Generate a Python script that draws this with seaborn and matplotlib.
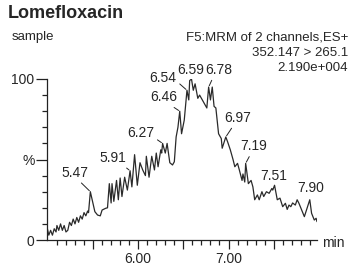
import numpy as np
import pandas as pd
import matplotlib
matplotlib.use("Agg")
import matplotlib.pyplot as plt
import seaborn as sns
from matplotlib.ticker import FixedLocator

# chromatogram trace (retention time in min, relative intensity in %)
time_min = [4.99, 5.01, 5.03, 5.05, 5.07, 5.09, 5.10, 5.12, 5.14, 5.16,
            5.18, 5.20, 5.22, 5.24, 5.26, 5.28, 5.30, 5.32, 5.34, 5.36,
            5.38, 5.40, 5.42, 5.44, 5.45, 5.47, 5.49, 5.52, 5.55, 5.58,
            5.60, 5.64, 5.66, 5.68, 5.70, 5.71, 5.73, 5.76, 5.78, 5.80,
            5.82, 5.85, 5.88, 5.91, 5.93, 5.96, 5.99, 6.02, 6.05, 6.08,
            6.09, 6.12, 6.15, 6.18, 6.20, 6.22, 6.25, 6.26, 6.27, 6.30,
            6.32, 6.35, 6.38, 6.40, 6.42, 6.44, 6.46, 6.48, 6.51, 6.54,
            6.56, 6.57, 6.59, 6.61, 6.63, 6.66, 6.68, 6.71, 6.73, 6.76,
            6.78, 6.80, 6.82, 6.84, 6.86, 6.89, 6.92, 6.93, 6.97, 6.99,
            7.02, 7.05, 7.07, 7.10, 7.12, 7.15, 7.16, 7.18, 7.19, 7.22,
            7.25, 7.27, 7.29, 7.32, 7.34, 7.37, 7.39, 7.42, 7.45, 7.48,
            7.49, 7.51, 7.54, 7.57, 7.60, 7.63, 7.65, 7.67, 7.69, 7.71,
            7.74, 7.76, 7.78, 7.81, 7.84, 7.87, 7.90, 7.92, 7.95, 7.97,
            7.98]
intensity_pct = [8, 3, 6, 3, 7, 5, 9, 6, 10, 6,
                 9, 5, 6, 11, 9, 13, 10, 14, 11, 15,
                 13, 17, 15, 18, 17, 30, 25, 17.6, 15.5, 15,
                 18.6, 19.7, 20, 35, 23, 35, 24, 37, 25, 38.5,
                 27, 39, 31, 43, 33, 53, 34, 48, 43.5, 40,
                 52, 39, 52, 43.5, 54, 45.5, 56, 54, 60, 54,
                 60, 48, 46.6, 48.6, 64, 70, 80, 66, 74.5, 93,
                 87, 99, 100, 93, 97, 88, 90, 87, 85, 82,
                 95, 87, 95, 83, 82, 66, 63, 57, 64, 61,
                 56, 50, 45.5, 47.6, 43.5, 37, 41, 36, 47.6, 35,
                 37, 33, 25, 28, 25, 30, 27, 30, 29, 32,
                 31, 34, 25, 26, 20.7, 22.8, 19, 21.7, 20.7, 23,
                 21.7, 25, 22.8, 18.6, 14.5, 19.7, 25, 16.6, 12.4, 13.5,
                 11.4]

peak_times = [5.47, 5.91, 6.27, 6.46, 6.54, 6.59, 6.78, 6.97, 7.19, 7.51, 7.90]

title = "Lomefloxacin"
sample_name = "sample"
info_lines = ["F5:MRM of 2 channels,ES+", "352.147 > 265.1", "2.190e+004"]

df = pd.DataFrame({"t": time_min, "pct": intensity_pct})

sns.set_style("ticks")
plt.rcParams["font.family"] = ["Liberation Sans", "DejaVu Sans"]

W, H = 352, 267
fig = plt.figure(figsize=(W / 100, H / 100), dpi=100)
ax = fig.add_axes([47 / W, 1 - 240 / H, 270 / W, 161 / H])

sns.lineplot(data=df, x="t", y="pct", ax=ax, color="#2a2a2a", linewidth=0.9,
             estimator=None, sort=False, legend=False)

ax.set_xlim(4.99, 7.98)
ax.set_ylim(0, 100)
ax.set_xlabel("")
ax.set_ylabel("")
for s in ["top", "right"]:
    ax.spines[s].set_visible(False)
for s in ["left", "bottom"]:
    ax.spines[s].set_linewidth(0.9)
    ax.spines[s].set_color("#222222")

ax.yaxis.set_major_locator(FixedLocator([0, 50, 100]))
ax.set_yticklabels(["0", "%", "100"])
ax.yaxis.set_minor_locator(FixedLocator(np.arange(10, 100, 10)))
ax.xaxis.set_major_locator(FixedLocator([5.5, 6.0, 6.5, 7.0, 7.5]))
ax.set_xticklabels(["", "6.00", "", "7.00", ""])
ax.xaxis.set_minor_locator(FixedLocator(np.round(np.arange(5.1, 7.95, 0.1), 2)))
ax.tick_params(which="major", length=6.5, width=0.9, color="#222222",
               labelsize=10, pad=2)
ax.tick_params(axis="y", which="major", length=8, pad=1)
ax.tick_params(which="minor", length=3.5, width=0.9, color="#222222")

# peak labels: pixel offset of label from apex, and where the leader line leaves the text
offsets = [(-15, 19), (-17, 13), (-22, 10), (-16, 14), (-24, 12), (-1, 9),
           (10, 17), (12, 19), (8, 17), (-1, 9), (1, 12)]
leader_from = [(0.6, 0), (0.85, 0), (1, 0.2), (0.7, 0), (1, 0.3), None,
               (0.3, 0), (0.35, 0), (0.4, 0), None, None]

t_arr = np.array(time_min)
y_arr = np.array(intensity_pct)
for pt, (dx, dy), rel in zip(peak_times, offsets, leader_from):
    i = int(np.argmin(np.abs(t_arr - pt)))
    props = None
    if rel is not None:
        props = dict(arrowstyle="-", lw=0.7, color="#222222",
                     shrinkA=0, shrinkB=1, relpos=rel)
    ax.annotate(f"{pt:.2f}", xy=(t_arr[i], y_arr[i]), xytext=(dx, dy),
                textcoords="offset pixels", ha="center", va="center",
                fontsize=10, arrowprops=props, annotation_clip=False)

fig.text(8 / W, 1 - 13 / H, title, fontsize=13, fontweight="bold", va="center")
fig.text(12 / W, 1 - 37 / H, sample_name, fontsize=9.5, va="center")
for k, line in enumerate(info_lines):
    fig.text(348 / W, 1 - (37 + 15.5 * k) / H, line, fontsize=9.5,
             ha="right", va="center")
fig.text(322 / W, 1 - 243 / H, "min", fontsize=10, va="center")

fig.savefig("out.png", dpi=100)
